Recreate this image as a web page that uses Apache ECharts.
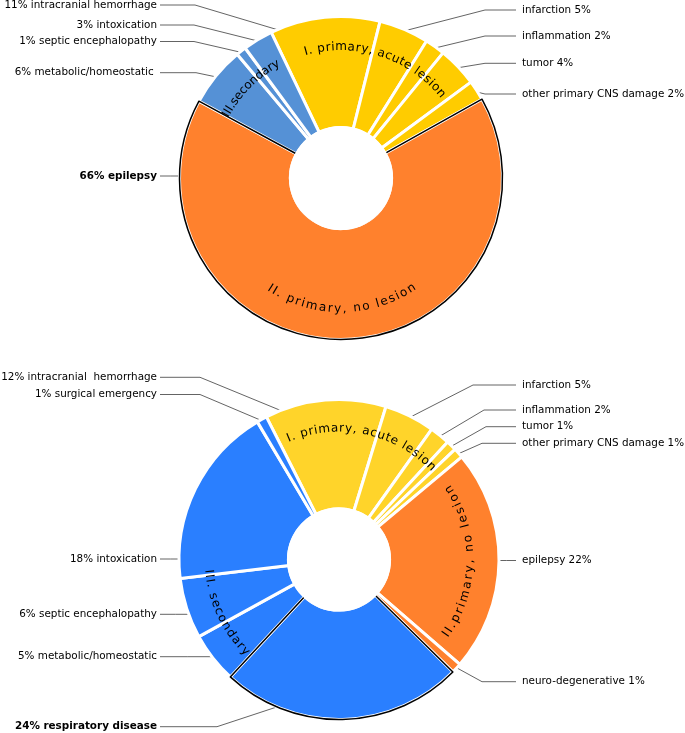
<!DOCTYPE html>
<html><head><meta charset="utf-8">
<script src="https://cdn.jsdelivr.net/npm/echarts@6/dist/echarts.min.js"></script>
<style>html,body{margin:0;padding:0;background:#fff}#c{width:685px;height:733px}</style>
</head><body><div id="c"></div>
<script>
// ---------- DATA ----------
// Top donut
const topNames  = ['intracranial hemorrhage','infarction','inflammation','tumor','other primary CNS damage','epilepsy','metabolic/homeostatic ','septic encephalopathy','intoxication'];
const topValues = [11, 5, 2, 4, 2, 66, 6, 1, 3];
const topGroups = ['I','I','I','I','I','II','III','III','III'];
const topGroupKeys  = ['I','II','III'];
const topGroupTexts = ['I. primary, acute lesion','II. primary, no lesion','III.secondary'];

// Bottom donut
const botNames  = ['intracranial  hemorrhage','infarction','inflammation','tumor','other primary CNS damage','epilepsy','neuro-degenerative','respiratory disease','metabolic/homeostatic','septic encephalopathy','intoxication','surgical emergency'];
const botValues = [12, 5, 2, 1, 1, 22, 1, 24, 5, 6, 18, 1];
const botGroups = ['I','I','I','I','I','II','II','III','III','III','III','III'];
const botGroupKeys  = ['I','II','III'];
const botGroupTexts = ['I. primary, acute lesion','II.primary, no lesion','III. secondary'];

// ---------- LAYOUT / STYLE ----------
const topCfg = {
  cx: 341, cy: 178, r0: 50.5, r1: 161.5, start: 115.6,
  colors: {I:'#ffcc00', II:'#ff812d', III:'#5591d6'},
  outlined: 5,
  side:  ['L','R','R','R','R','L','L','L','L'],
  labelY:[5, 10, 36, 63.3, 94, 176, 72.7, 41.5, 25],
  horiz: [0,0,0,0,0,1,0,0,0],
  anchor:[337.6,null,null,null,null,null,null,null,null],
  elbow: [195,485,485,485,485,null,196,194,194],
  groupOffset: [0, 0, -1.5],
  groupSpacing: [0.7, 1.5, 0],
  groupR: [131, 131, 131]
};
const botCfg = {
  cx: 339, cy: 559.5, r0: 50.5, r1: 160, start: 117,
  colors: {I:'#ffd42a', II:'#ff812d', III:'#2a7fff'},
  outlined: 7,
  side:  ['L','R','R','R','R','R','R','L','L','L','L','L'],
  labelY:[377.3, 385, 410, 426.7, 443.3, 560.5, 681.7, 726.7, 656.7, 614.3, 559, 394.5],
  horiz: [0,0,0,0,0,1,0,0,1,1,1,0],
  anchor:[339.4,null,null,null,null,null,null,202,null,null,null,null],
  elbow: [200,473,484,486,482,null,482,217,null,null,null,200],
  groupOffset: [0, -1.5, 11],
  groupSpacing: [0.9, 2.0, 1.1],
  groupR: [131, 131, 131]
};
const LEFT_TEXT_X = 157, RIGHT_TEXT_X = 522, LEFT_LINE_END = 160, RIGHT_LINE_END = 516;
const LABEL_FONT = 'DejaVu Sans';
const CURVE_FONT = '12px "DejaVu Sans"';

// ---------- BUILD ----------
function angles(values, start) {
  const total = values.reduce((a,b)=>a+b,0);
  let acc = 90 - start;
  const s = [], e = [], m = [];
  values.forEach(v => { const span = v/total*360; s.push(acc); e.push(acc+span); m.push(acc+span/2); acc += span; });
  return {s, e, m};
}
function pt(cfg, deg, r) {
  const a = deg*Math.PI/180;
  return [cfg.cx + r*Math.sin(a), cfg.cy - r*Math.cos(a)];
}
function labelLayoutFor(cfg, values) {
  const ang = angles(values, cfg.start);
  const rA = cfg.r1 - 2;
  return function(p) {
    const i = p.dataIndex;
    const L = cfg.side[i] === 'L';
    const y = cfg.labelY[i];
    const endX = L ? LEFT_LINE_END : RIGHT_LINE_END;
    let pts;
    if (cfg.horiz[i]) {
      const dy = y - cfg.cy;
      const dx = Math.sqrt(Math.max(0, rA*rA - dy*dy));
      const ax = L ? cfg.cx - dx : cfg.cx + dx;
      pts = [[ax, y], [(ax+endX)/2, y], [endX, y]];
    } else {
      const deg = cfg.anchor[i] != null ? cfg.anchor[i] : ang.m[i];
      const a = pt(cfg, deg, rA);
      pts = [a, [cfg.elbow[i], y], [endX, y]];
    }
    return {
      x: L ? LEFT_TEXT_X : RIGHT_TEXT_X, y: y,
      align: L ? 'right' : 'left', verticalAlign: 'middle',
      width: 240,
      labelLinePoints: pts
    };
  };
}
function seriesFor(cfg, names, values, groups) {
  const common = {type:'pie', center:[cfg.cx, cfg.cy], radius:[cfg.r0, cfg.r1], startAngle: cfg.start,
    clockwise: true, avoidLabelOverlap: false, animation: false, silent: true, emphasis:{disabled:true}};
  const main = Object.assign({}, common, {
    label: {show: true, position: 'outside', fontFamily: LABEL_FONT, fontSize: 10.4, color: '#000', overflow:'none',
      formatter: p => cfg.side[p.dataIndex] === 'L' ? p.value + '% ' + p.name : p.name + ' ' + p.value + '%'},
    labelLine: {show: true, length: 8, length2: 8, smooth: false, lineStyle: {color: '#3c3c3c', width: 0.8}},
    labelLayout: labelLayoutFor(cfg, values),
    data: names.map((n,i) => ({name: n, value: values[i],
      itemStyle: {color: cfg.colors[groups[i]], borderColor: '#fff', borderWidth: 3},
      label: i === cfg.outlined ? {fontWeight: 'bold'} : {}}))
  });
  const outline = Object.assign({}, common, {
    z: 3,
    label: {show: false}, labelLine: {show: false},
    data: names.map((n,i) => ({name: n, value: values[i],
      itemStyle: i === cfg.outlined ? {color: 'rgba(0,0,0,0)', borderColor: '#000', borderWidth: 1.5}
                                    : {color: 'rgba(0,0,0,0)', borderWidth: 0}}))
  });
  return [main, outline];
}
const measureCtx = document.createElement('canvas').getContext('2d');
function curvedText(cfg, text, thetaC, r, spacing) {
  measureCtx.font = CURVE_FONT;
  const chars = Array.from(text);
  const ws = chars.map(ch => measureCtx.measureText(ch).width);
  const L = ws.reduce((a,b)=>a+b,0) + spacing*(chars.length-1);
  const tc = ((thetaC % 360) + 360) % 360;
  const ccw = tc > 90 && tc < 270;
  const els = [];
  let s = 0;
  chars.forEach((ch, i) => {
    const sc = s + ws[i]/2;
    s += ws[i] + spacing;
    if (ch === ' ') return;
    const d = (sc - L/2)/r*180/Math.PI;
    const th = ccw ? thetaC - d : thetaC + d;
    const rad = th*Math.PI/180;
    const p = pt(cfg, th, r);
    els.push({type: 'text', x: p[0], y: p[1], rotation: ccw ? Math.PI - rad : -rad, z: 100, silent: true,
      style: {text: ch, font: CURVE_FONT, fill: '#000', align: 'center', verticalAlign: 'middle',
              textAlign: 'center', textVerticalAlign: 'middle'}});
  });
  return els;
}
function groupGraphics(cfg, values, groups, keys, texts) {
  const ang = angles(values, cfg.start);
  let els = [{type: 'circle', shape: {cx: cfg.cx, cy: cfg.cy, r: cfg.r0 + 1.6}, style: {fill: '#fff'}, z: 99, silent: true}];
  keys.forEach((k, gi) => {
    const idx = groups.map((g,i)=> g===k ? i : -1).filter(i=>i>=0);
    const a0 = ang.s[idx[0]], a1 = ang.e[idx[idx.length-1]];
    const mid = (a0 + a1)/2 + cfg.groupOffset[gi];
    els = els.concat(curvedText(cfg, texts[gi], mid, cfg.groupR[gi], cfg.groupSpacing[gi]));
  });
  return els;
}

const chart = echarts.init(document.getElementById('c'), null, {renderer: 'canvas'});
chart.setOption({
  animation: false,
  backgroundColor: '#fff',
  series: [].concat(seriesFor(topCfg, topNames, topValues, topGroups), seriesFor(botCfg, botNames, botValues, botGroups)),
  graphic: {elements: [].concat(
    groupGraphics(topCfg, topValues, topGroups, topGroupKeys, topGroupTexts),
    groupGraphics(botCfg, botValues, botGroups, botGroupKeys, botGroupTexts))}
});
</script></body></html>
